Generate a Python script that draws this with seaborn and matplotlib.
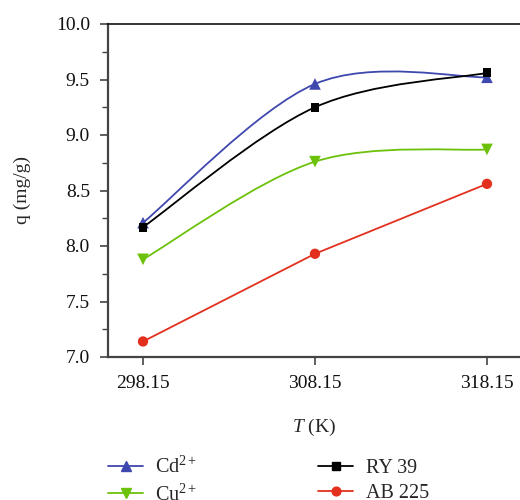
import numpy as np
import pandas as pd
import matplotlib
matplotlib.use("Agg")
import matplotlib.pyplot as plt
from matplotlib.path import Path
from matplotlib.patches import PathPatch
from matplotlib.lines import Line2D
import seaborn as sns

# ---- data ----
temps = [298.15, 308.15, 318.15]
cd = [8.21, 9.46, 9.52]
cu = [7.88, 8.76, 8.87]
ry = [8.17, 9.25, 9.56]
ab = [7.14, 7.93, 8.56]
series_names = ["Cd$^{2+}$", "Cu$^{2+}$", "RY 39", "AB 225"]
tick_labels = ["298.15", "308.15", "318.15"]

sns.set_theme(style="white")
plt.rcParams['font.family'] = ['Liberation Serif', 'DejaVu Serif']
plt.rcParams['mathtext.fontset'] = 'custom'
plt.rcParams['mathtext.rm'] = 'Liberation Serif'
plt.rcParams['mathtext.it'] = 'Liberation Serif:italic'

fig = plt.figure(figsize=(5.2, 5.0), dpi=100)
ax = fig.add_axes([108/520, 1-357/500, 1-108/520, (357-24)/500])

colors = {"cd": "#3F48AE", "cu": "#6CC10A", "ry": "#000000", "ab": "#E3301E"}


def smooth_path(xs, ys):
    # Catmull-Rom curve through the data points, expressed as cubic Bezier segments
    P = list(zip(xs, ys))
    n = len(P)
    verts = [P[0]]
    codes = [Path.MOVETO]
    for i in range(n - 1):
        p0 = P[max(i - 1, 0)]
        p1 = P[i]
        p2 = P[i + 1]
        p3 = P[min(i + 2, n - 1)]
        c1 = (p1[0] + (p2[0] - p0[0]) / 6, p1[1] + (p2[1] - p0[1]) / 6)
        c2 = (p2[0] - (p3[0] - p1[0]) / 6, p2[1] - (p3[1] - p1[1]) / 6)
        verts += [c1, c2, p2]
        codes += [Path.CURVE4] * 3
    return Path(verts, codes)


for ys, key in [(cd, "cd"), (ry, "ry"), (cu, "cu")]:
    ax.add_patch(PathPatch(smooth_path(temps, ys), facecolor="none",
                           edgecolor=colors[key], lw=1.3, zorder=2))

sns.lineplot(x=temps, y=ab, color=colors["ab"], lw=1.3, ax=ax, zorder=2)

marker_info = [(cd, "cd", "^", 70), (cu, "cu", "v", 70), (ry, "ry", "s", 40), (ab, "ab", "o", 55)]
for ys, key, m, s in marker_info:
    sns.scatterplot(x=temps, y=ys, color=colors[key], marker=m, s=s,
                    edgecolor="none", ax=ax, zorder=3)

ax.set_xlim(296.115, 320.07)
ax.set_ylim(7.0, 10.0)
ax.set_xticks(temps)
ax.set_xticklabels(tick_labels)
ax.set_yticks(np.arange(7.0, 10.01, 0.5))
ax.set_yticks(np.arange(7.25, 10.0, 0.5), minor=True)
ax.set_yticklabels([f"{v:.1f}" for v in np.arange(7.0, 10.01, 0.5)])

for side in ["right"]:
    ax.spines[side].set_visible(False)
ax.spines["top"].set_color("#111111")
ax.spines["top"].set_linewidth(1.2)
for side in ["left", "bottom"]:
    ax.spines[side].set_color("#444444")
    ax.spines[side].set_linewidth(1.6)

ax.tick_params(axis="both", which="major", direction="out", length=6, width=1.2,
               color="#444444", labelsize=14, labelcolor="#111111",
               left=True, bottom=True, pad=7)
ax.tick_params(axis="y", which="minor", direction="out", length=4, width=1.0,
               color="#444444", left=True)

ax.set_ylabel("q (mg/g)", fontsize=14, labelpad=18)
ax.set_xlabel("$T$ (K)", fontsize=14, labelpad=18)

handles = []
for ys, key, m, s in marker_info:
    handles.append(Line2D([0], [0], color=colors[key], lw=1.3, marker=m,
                          markersize=np.sqrt(s) * 0.85, markeredgecolor=colors[key]))
fig.legend(handles, series_names, loc="upper left", bbox_to_anchor=(108/520, 1-457/500),
           ncol=2, frameon=False, fontsize=14.5, handlelength=1.75, handletextpad=0.6,
           columnspacing=6.0, labelspacing=0.3, borderaxespad=0, borderpad=0)

fig.savefig("out.png", dpi=100)
